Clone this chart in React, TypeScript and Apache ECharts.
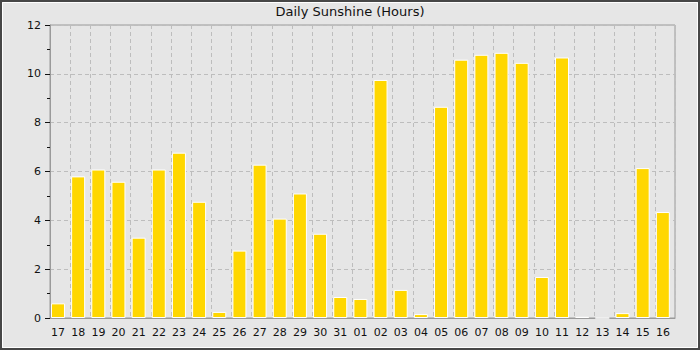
import React, { useEffect, useRef } from "react";
import * as echarts from "echarts";

const categories = [
  "17", "18", "19", "20", "21", "22", "23", "24", "25", "26", "27", "28", "29", "30", "31",
  "01", "02", "03", "04", "05", "06", "07", "08", "09", "10", "11", "12", "13", "14", "15", "16",
];
const sunshineHours = [
  0.6, 5.8, 6.08, 5.58, 3.29, 6.08, 6.77, 4.76, 0.25, 2.76, 6.28, 4.07, 5.1, 3.45, 0.86,
  0.78, 9.75, 1.15, 0.16, 8.65, 10.58, 10.78, 10.86, 10.45, 1.68, 10.67, 0.05, 0, 0.2, 6.14, 4.34,
];
const yTicks = { min: 0, max: 12, interval: 2 };
const titleText = "Daily Sunshine (Hours)";

export default function App() {
  const ref = useRef<HTMLDivElement>(null);
  useEffect(() => {
    document.body.style.margin = "0";
    if (!ref.current) return;
    const chart = echarts.init(ref.current, null, { renderer: "svg" });
    const font = "DejaVu Sans";
    chart.setOption({
      animation: false,
      backgroundColor: "#e6e6e6",
      title: {
        text: titleText,
        left: "center",
        top: 5,
        padding: 0,
        textStyle: { fontFamily: font, fontSize: 13, fontWeight: "normal", color: "#111" },
      },
      graphic: [
        { type: "rect", shape: { x: 1, y: 1, width: 698, height: 348 }, style: { fill: "none", stroke: "#474747", lineWidth: 2 }, z: 100 },
        { type: "rect", shape: { x: 2.5, y: 2.5, width: 695, height: 345 }, style: { fill: "none", stroke: "#ffffff", lineWidth: 1 }, z: 100 },
      ],
      grid: {
        left: 50,
        right: 25,
        top: 25,
        bottom: 32,
        show: true,
        borderColor: "#9a9a9a",
        borderWidth: 1,
        backgroundColor: "transparent",
      },
      xAxis: {
        type: "category",
        data: categories,
        boundaryGap: true,
        axisLine: { show: true, lineStyle: { color: "#9a9a9a" } },
        axisTick: { show: false },
        axisLabel: {
          interval: 0,
          fontFamily: font,
          fontSize: 11,
          color: "#111",
          margin: 9,
          padding: [0, 4, 0, 0],
        },
        splitLine: {
          show: true,
          interval: 0,
          lineStyle: { color: "#bdbdbd", type: [4, 3], width: 1 },
        },
      },
      yAxis: {
        type: "value",
        min: yTicks.min,
        max: yTicks.max,
        interval: yTicks.interval,
        axisLine: { show: true, lineStyle: { color: "#9a9a9a" } },
        axisTick: { show: true, length: 5, lineStyle: { color: "#111" } },
        minorTick: { show: true, splitNumber: 2, length: 3, lineStyle: { color: "#111" } },
        axisLabel: { fontFamily: font, fontSize: 11, color: "#111", margin: 9 },
        splitLine: { show: true, lineStyle: { color: "#bdbdbd", type: [4, 3], width: 1 } },
      },
      series: [
        {
          type: "bar",
          data: sunshineHours,
          barWidth: 14,
          barGap: "-70%",
          itemStyle: { color: "#ffd700", borderColor: "#ffffff", borderWidth: 1 },
          z: 3,
        },
        {
          type: "bar",
          data: [],
          barWidth: 14,
        },
      ],
    });
    return () => chart.dispose();
  }, []);
  return <div ref={ref} style={{ width: 700, height: 350 }} />;
}
